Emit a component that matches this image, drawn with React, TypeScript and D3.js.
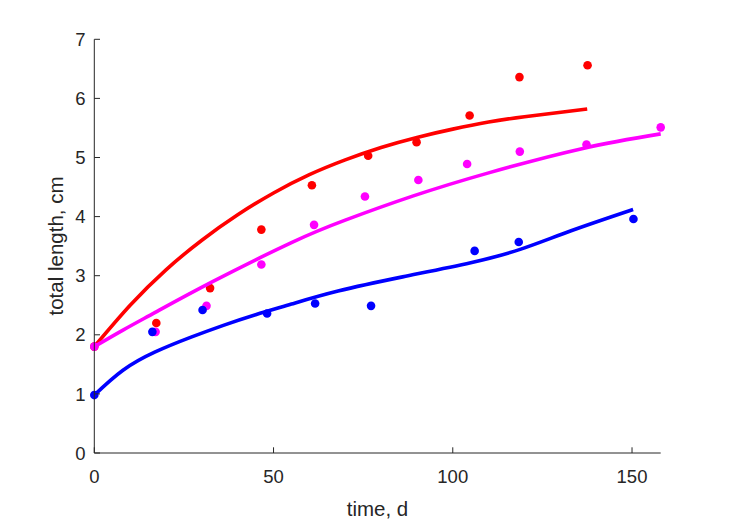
import React from "react";
import * as d3 from "d3";

// ---- data ----
const redT = [0, 17.3, 32.3, 46.6, 60.7, 76.4, 89.9, 104.7, 118.6, 137.6];
const redV = [1.8, 2.2, 2.79, 3.78, 4.53, 5.03, 5.26, 5.71, 6.36, 6.56];
const magT = [0, 17.1, 31.3, 46.6, 61.3, 75.5, 90.4, 104.0, 118.7, 137.3, 158.0];
const magV = [1.8, 2.05, 2.49, 3.19, 3.86, 4.34, 4.62, 4.89, 5.1, 5.22, 5.51];
const bluT = [0, 16.2, 30.2, 48.2, 61.6, 77.2, 106.1, 118.4, 150.4];
const bluV = [0.98, 2.05, 2.42, 2.36, 2.53, 2.49, 3.42, 3.57, 3.96];

// fitted curves
const redFitT = [0, 10, 20, 30, 40, 50, 60, 70, 80, 90, 100, 110, 120, 137.5];
const redFitV = [1.8, 2.5, 3.1, 3.6, 4.03, 4.4, 4.71, 4.96, 5.17, 5.34, 5.48, 5.6, 5.69, 5.82];
const magFitT = [0, 8, 17, 33, 55, 70, 89, 110, 136, 158];
const magFitV = [1.8, 2.08, 2.38, 2.9, 3.56, 3.94, 4.35, 4.74, 5.15, 5.4];
const bluFitT = [0, 8, 17, 27, 36, 45, 55, 68, 86, 105, 119, 133, 150.3];
const bluFitV = [0.98, 1.4, 1.71, 1.96, 2.16, 2.34, 2.52, 2.74, 2.98, 3.22, 3.45, 3.76, 4.12];

const xTicks = [0, 50, 100, 150];
const yTicks = [0, 1, 2, 3, 4, 5, 6, 7];
const xLabel = "time, d";
const yLabel = "total length, cm";

const W = 729;
const H = 521;
const AX = "#262626";
const FONT = "'Liberation Sans', Arial, Helvetica, sans-serif";

export default function App() {
  const x = d3.scaleLinear().domain([0, 158]).range([94.3, 660.7]);
  const y = d3.scaleLinear().domain([0, 7]).range([453, 39.3]);
  const tickLen = 5.7;

  const line = d3
    .line<[number, number]>()
    .x((d) => x(d[0]))
    .y((d) => y(d[1]))
    .curve(d3.curveNatural);

  const series = [
    { color: "#FF0000", t: redT, v: redV, ft: redFitT, fv: redFitV },
    { color: "#FF00FF", t: magT, v: magV, ft: magFitT, fv: magFitV },
    { color: "#0000FF", t: bluT, v: bluV, ft: bluFitT, fv: bluFitV },
  ];

  return (
    <svg
      width={W}
      height={H}
      style={{ position: "absolute", left: 0, top: 0, background: "#fff" }}
      fontFamily={FONT}
    >
      <rect x={0} y={0} width={W} height={H} fill="#fff" />
      {series.map((s, i) => (
        <g key={i}>
          {s.t.map((t, j) => (
            <circle key={j} cx={x(t)} cy={y(s.v[j])} r={4.3} fill={s.color} />
          ))}
          <path
            d={line(s.ft.map((t, j) => [t, s.fv[j]] as [number, number])) || ""}
            fill="none"
            stroke={s.color}
            strokeWidth={3.6}
          />
        </g>
      ))}
      {/* axes */}
      <line x1={x(0)} x2={x(158)} y1={y(0)} y2={y(0)} stroke={AX} strokeWidth={1} />
      <line x1={x(0)} x2={x(0)} y1={y(0)} y2={y(7)} stroke={AX} strokeWidth={1} />
      {xTicks.map((t) => (
        <g key={"x" + t}>
          <line x1={x(t)} x2={x(t)} y1={y(0)} y2={y(0) - tickLen} stroke={AX} strokeWidth={1} />
          <text x={x(t)} y={483} textAnchor="middle" fontSize={18.5} fill={AX}>
            {t}
          </text>
        </g>
      ))}
      {yTicks.map((v) => (
        <g key={"y" + v}>
          <line x1={x(0)} x2={x(0) + tickLen} y1={y(v)} y2={y(v)} stroke={AX} strokeWidth={1} />
          <text x={85.5} y={y(v) + 6.6} textAnchor="end" fontSize={18.5} fill={AX}>
            {v}
          </text>
        </g>
      ))}
      <text x={377.5} y={516} textAnchor="middle" fontSize={20.5} fill={AX}>
        {xLabel}
      </text>
      <text
        transform={`translate(62.5, 246) rotate(-90)`}
        textAnchor="middle"
        fontSize={20.5}
        fill={AX}
      >
        {yLabel}
      </text>
    </svg>
  );
}
